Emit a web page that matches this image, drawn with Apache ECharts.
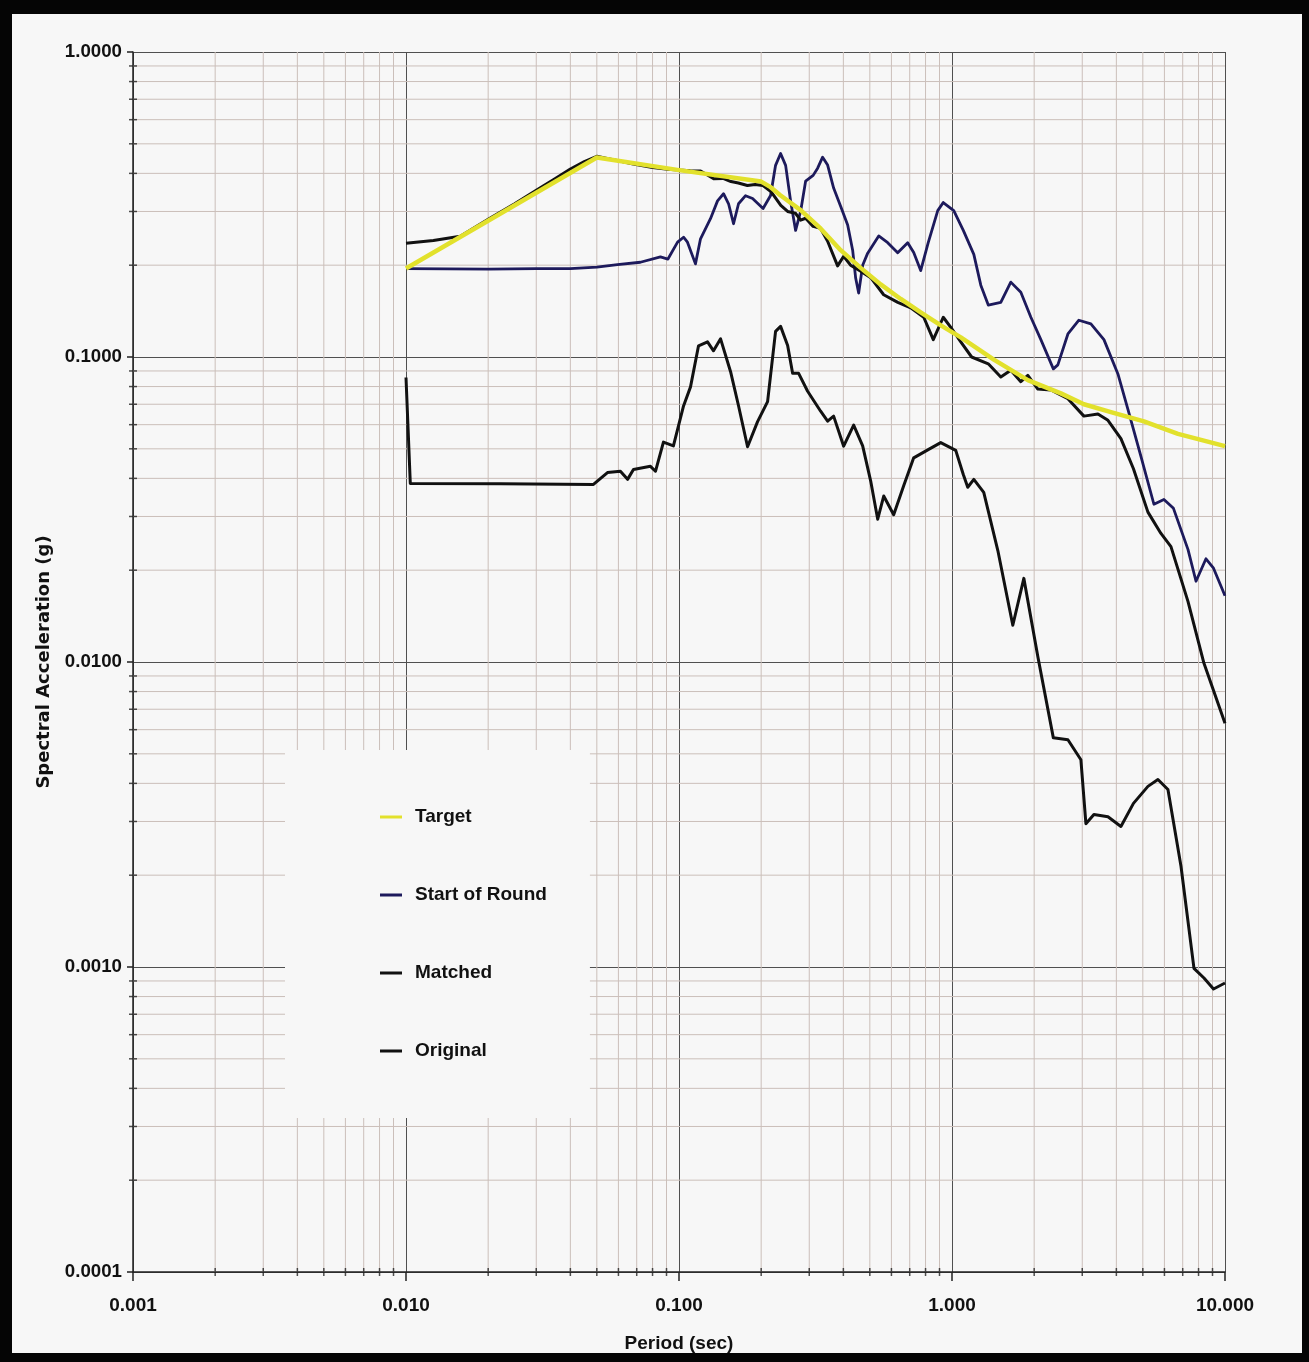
<!DOCTYPE html>
<html>
<head>
<meta charset="utf-8">
<script src="https://cdn.jsdelivr.net/npm/echarts@6/dist/echarts.min.js"></script>
<style>
  html, body { margin: 0; padding: 0; background: #f7f7f7; }
  #chart { width: 1309px; height: 1362px; }
</style>
</head>
<body>
<div id="chart"></div>
<script>
// Response spectra: period (sec) vs spectral acceleration (g)
const targetPeriod = [0.010, 0.050, 0.100, 0.200, 0.215, 0.235, 0.279, 0.330, 0.391, 0.463, 0.548, 0.649, 0.768, 0.910, 1.077, 1.423, 1.896, 2.505, 3.042, 3.820, 5.047, 6.725, 10.00];
const targetSa     = [0.195, 0.451, 0.410, 0.376, 0.362, 0.339, 0.303, 0.264, 0.224, 0.196, 0.173, 0.155, 0.140, 0.127, 0.116, 0.098, 0.084, 0.076, 0.070, 0.066, 0.0615, 0.056, 0.051];

const startPeriod = [0.010, 0.020, 0.030, 0.040, 0.050, 0.0595, 0.0722, 0.0855, 0.0911, 0.0988, 0.1039, 0.1074, 0.1149, 0.1199, 0.1304, 0.1384, 0.1456, 0.1519, 0.1584, 0.1652, 0.1753, 0.186, 0.2032, 0.2165, 0.2258, 0.2356, 0.2458, 0.2564, 0.2674, 0.2789, 0.2909, 0.310, 0.322, 0.3358, 0.3503, 0.3685, 0.3909, 0.4148, 0.4326, 0.4437, 0.4551, 0.4707, 0.4911, 0.5389, 0.5814, 0.6325, 0.6882, 0.724, 0.768, 0.8183, 0.8867, 0.9288, 1.015, 1.10, 1.202, 1.275, 1.358, 1.509, 1.642, 1.787, 1.945, 2.116, 2.351, 2.442, 2.658, 2.916, 3.227, 3.602, 4.053, 4.41, 4.921, 5.491, 5.975, 6.474, 7.317, 7.83, 8.518, 9.077, 10.0];
const startSa     = [0.195, 0.194, 0.195, 0.195, 0.197, 0.201, 0.2045, 0.213, 0.2095, 0.238, 0.247, 0.238, 0.202, 0.244, 0.284, 0.325, 0.343, 0.318, 0.2735, 0.318, 0.338, 0.331, 0.307, 0.3385, 0.425, 0.465, 0.425, 0.324, 0.260, 0.300, 0.377, 0.394, 0.416, 0.452, 0.426, 0.358, 0.312, 0.271, 0.224, 0.1815, 0.162, 0.200, 0.219, 0.2495, 0.237, 0.2196, 0.237, 0.220, 0.192, 0.237, 0.302, 0.321, 0.302, 0.260, 0.217, 0.172, 0.148, 0.151, 0.176, 0.163, 0.135, 0.114, 0.0914, 0.0942, 0.119, 0.132, 0.1285, 0.114, 0.088, 0.0673, 0.0472, 0.0329, 0.0341, 0.0319, 0.0234, 0.0184, 0.0218, 0.0203, 0.0165];

const matchedPeriod = [0.010, 0.0126, 0.0158, 0.020, 0.025, 0.030, 0.035, 0.040, 0.045, 0.050, 0.055, 0.060, 0.068, 0.080, 0.091, 0.100, 0.110, 0.120, 0.134, 0.145, 0.155, 0.165, 0.178, 0.190, 0.203, 0.217, 0.236, 0.250, 0.267, 0.279, 0.291, 0.310, 0.330, 0.350, 0.381, 0.401, 0.425, 0.463, 0.504, 0.562, 0.633, 0.706, 0.788, 0.854, 0.929, 0.990, 1.077, 1.180, 1.358, 1.509, 1.642, 1.787, 1.896, 2.063, 2.302, 2.658, 3.042, 3.424, 3.726, 4.157, 4.620, 5.220, 5.826, 6.339, 7.317, 8.375, 10.00];
const matchedSa     = [0.236, 0.241, 0.249, 0.283, 0.318, 0.352, 0.383, 0.413, 0.437, 0.455, 0.447, 0.440, 0.429, 0.418, 0.413, 0.410, 0.408, 0.407, 0.384, 0.385, 0.376, 0.372, 0.365, 0.368, 0.365, 0.349, 0.314, 0.300, 0.296, 0.281, 0.285, 0.268, 0.264, 0.240, 0.199, 0.214, 0.200, 0.191, 0.182, 0.160, 0.151, 0.145, 0.135, 0.114, 0.135, 0.125, 0.112, 0.100, 0.095, 0.086, 0.0905, 0.083, 0.087, 0.0785, 0.078, 0.073, 0.064, 0.065, 0.062, 0.054, 0.043, 0.031, 0.0264, 0.0239, 0.0158, 0.0099, 0.0063];

const originalPeriod = [0.0100, 0.01037, 0.0222, 0.0486, 0.0547, 0.061, 0.0648, 0.0681, 0.0786, 0.082, 0.0877, 0.0954, 0.1039, 0.1102, 0.1179, 0.1272, 0.1338, 0.142, 0.1545, 0.1652, 0.1783, 0.194, 0.2111, 0.2258, 0.2356, 0.25, 0.2607, 0.2743, 0.2959, 0.3302, 0.3503, 0.3685, 0.401, 0.4363, 0.4707, 0.5037, 0.5344, 0.5622, 0.6115, 0.6653, 0.724, 0.8183, 0.9095, 1.032, 1.10, 1.142, 1.202, 1.307, 1.472, 1.67, 1.833, 2.063, 2.351, 2.658, 2.966, 3.094, 3.31, 3.726, 4.157, 4.62, 5.22, 5.68, 6.18, 6.899, 7.698, 8.375, 9.077, 10.0];
const originalSa     = [0.0857, 0.0385, 0.0384, 0.0382, 0.0418, 0.0422, 0.0397, 0.0428, 0.0438, 0.0422, 0.0526, 0.0511, 0.0691, 0.0798, 0.1088, 0.1121, 0.1048, 0.1147, 0.0895, 0.0692, 0.0508, 0.0614, 0.0714, 0.1213, 0.126, 0.1091, 0.0884, 0.0884, 0.0772, 0.0664, 0.0616, 0.064, 0.051, 0.0598, 0.0511, 0.0392, 0.0294, 0.035, 0.0304, 0.0378, 0.0467, 0.0497, 0.0524, 0.0494, 0.0412, 0.0374, 0.0397, 0.036, 0.0232, 0.0132, 0.0188, 0.0104, 0.00564, 0.00556, 0.00478, 0.00295, 0.00316, 0.00311, 0.00289, 0.00344, 0.00391, 0.00412, 0.00382, 0.00214, 0.00099, 0.00092, 0.000847, 0.000886];

// Axis ranges and decade labels
const xMin = 0.001, xMax = 10;
const yMin = 0.0001, yMax = 1;
const xTickLabels = ['0.001', '0.010', '0.100', '1.000', '10.000'];
const yTickLabels = ['0.0001', '0.0010', '0.0100', '0.1000', '1.0000'];
const xDecades = [0.001, 0.01, 0.1, 1];
const yDecades = [0.0001, 0.001, 0.01, 0.1];
const minorSteps = [2, 3, 4, 5, 6, 7, 8, 9];

const minorX = [];
xDecades.forEach(d => minorSteps.forEach(m => minorX.push(+(d * m).toPrecision(3))));
const minorY = [];
yDecades.forEach(d => minorSteps.forEach(m => minorY.push(+(d * m).toPrecision(3))));

const pairs = (xs, ys) => xs.map((x, i) => [x, ys[i]]);

// minor grid lines as broken polylines (one segment per line)
const vGrid = [];
minorX.forEach(v => { vGrid.push([v, yMin], [v, yMax], [v, null]); });
const hGrid = [];
minorY.forEach(v => { hGrid.push([xMin, v], [xMax, v], [null, v]); });

const SANS = "'Liberation Sans', Arial, sans-serif";
const BG = '#f7f7f7';
const MINOR = '#cbbfba';
const MAJOR = '#505050';

const chart = echarts.init(document.getElementById('chart'), null, { renderer: 'canvas' });

chart.setOption({
  backgroundColor: BG,
  animation: false,
  grid: { left: 133, right: 84, top: 52, bottom: 90, containLabel: false, outerBoundsMode: 'none' },
  xAxis: {
    type: 'log', logBase: 10, min: xMin, max: xMax,
    name: 'Period (sec)', nameLocation: 'middle', nameGap: 62,
    nameTextStyle: { fontFamily: SANS, fontWeight: 'bold', fontSize: 19, color: '#111' },
    axisLine: { show: true, onZero: false, lineStyle: { color: '#222', width: 1.5 } },
    axisTick: { show: true, length: 9, lineStyle: { color: '#222', width: 1.5 } },
    axisLabel: {
      margin: 24, fontFamily: SANS, fontWeight: 'bold', fontSize: 19, color: '#111',
      formatter: v => xTickLabels[Math.round(Math.log10(v)) + 3] ?? ''
    },
    splitLine: { show: true, lineStyle: { color: MAJOR, width: 1 } },
    minorTick: { show: false }, minorSplitLine: { show: false }
  },
  yAxis: {
    type: 'log', logBase: 10, min: yMin, max: yMax,
    name: 'Spectral Acceleration (g)', nameLocation: 'middle', nameGap: 80, nameRotate: 90,
    nameTextStyle: { fontFamily: "'DejaVu Sans', sans-serif", fontWeight: 'bold', fontSize: 18, color: '#111' },
    axisLine: { show: true, onZero: false, lineStyle: { color: '#222', width: 1.5 } },
    axisTick: { show: true, length: 6, lineStyle: { color: '#222', width: 1.5 } },
    axisLabel: {
      margin: 11, fontFamily: SANS, fontWeight: 'bold', fontSize: 18.7, color: '#111',
      formatter: v => yTickLabels[Math.round(Math.log10(v)) + 4] ?? ''
    },
    splitLine: { show: true, lineStyle: { color: MAJOR, width: 1 } },
    minorTick: { show: false }, minorSplitLine: { show: false }
  },
  legend: {
    data: ['Target', 'Start of Round', 'Matched', 'Original'],
    orient: 'vertical',
    left: 285, top: 750,
    padding: [56, 43, 56, 95],
    itemGap: 56,
    itemWidth: 22, itemHeight: 3,
    icon: 'rect',
    backgroundColor: BG,
    selectedMode: false,
    textStyle: { fontFamily: SANS, fontWeight: 'bold', fontSize: 19, color: '#111', lineHeight: 22, padding: [0, 0, 0, 8] }
  },
  graphic: [
    { type: 'rect', z: 100, shape: { x: 0, y: 0, width: 1309, height: 14 }, style: { fill: '#050505' } },
    { type: 'rect', z: 100, shape: { x: 0, y: 0, width: 12, height: 1362 }, style: { fill: '#050505' } },
    { type: 'rect', z: 100, shape: { x: 1302, y: 0, width: 7, height: 1362 }, style: { fill: '#050505' } },
    { type: 'rect', z: 100, shape: { x: 0, y: 1353, width: 1309, height: 9 }, style: { fill: '#050505' } }
  ],
  series: [
    {
      name: 'minorV', type: 'line', data: vGrid, showSymbol: false, silent: true, z: 1,
      connectNulls: false, lineStyle: { color: MINOR, width: 1 }, emphasis: { disabled: true }
    },
    {
      name: 'minorH', type: 'line', data: hGrid, showSymbol: false, silent: true, z: 1,
      connectNulls: false, lineStyle: { color: MINOR, width: 1 }, emphasis: { disabled: true }
    },
    {
      name: 'xTicks', type: 'scatter', data: minorX.map(v => [v, yMin]), symbol: 'rect',
      symbolSize: [1.5, 8], clip: false, silent: true, z: 6, itemStyle: { color: '#222' }
    },
    {
      name: 'yTicks', type: 'scatter', data: minorY.map(v => [xMin, v]), symbol: 'rect',
      symbolSize: [8, 1.5], clip: false, silent: true, z: 6, itemStyle: { color: '#222' }
    },
    {
      name: 'Start of Round', type: 'line', data: pairs(startPeriod, startSa), showSymbol: false, z: 3,
      lineStyle: { color: '#1d1a5c', width: 2.8, join: 'round' },
      itemStyle: { color: '#1d1a5c' }, emphasis: { disabled: true }
    },
    {
      name: 'Original', type: 'line', data: pairs(originalPeriod, originalSa), showSymbol: false, z: 3,
      lineStyle: { color: '#111111', width: 3, join: 'round' },
      itemStyle: { color: '#111111' }, emphasis: { disabled: true }
    },
    {
      name: 'Matched', type: 'line', data: pairs(matchedPeriod, matchedSa), showSymbol: false, z: 4,
      lineStyle: { color: '#111111', width: 3, join: 'round' },
      itemStyle: { color: '#111111' }, emphasis: { disabled: true }
    },
    {
      name: 'Target', type: 'line', data: pairs(targetPeriod, targetSa), showSymbol: false, z: 5,
      lineStyle: { color: '#e2e12c', width: 4.5, join: 'round' },
      itemStyle: { color: '#e2e12c' }, emphasis: { disabled: true }
    }
  ]
});
</script>
</body>
</html>
